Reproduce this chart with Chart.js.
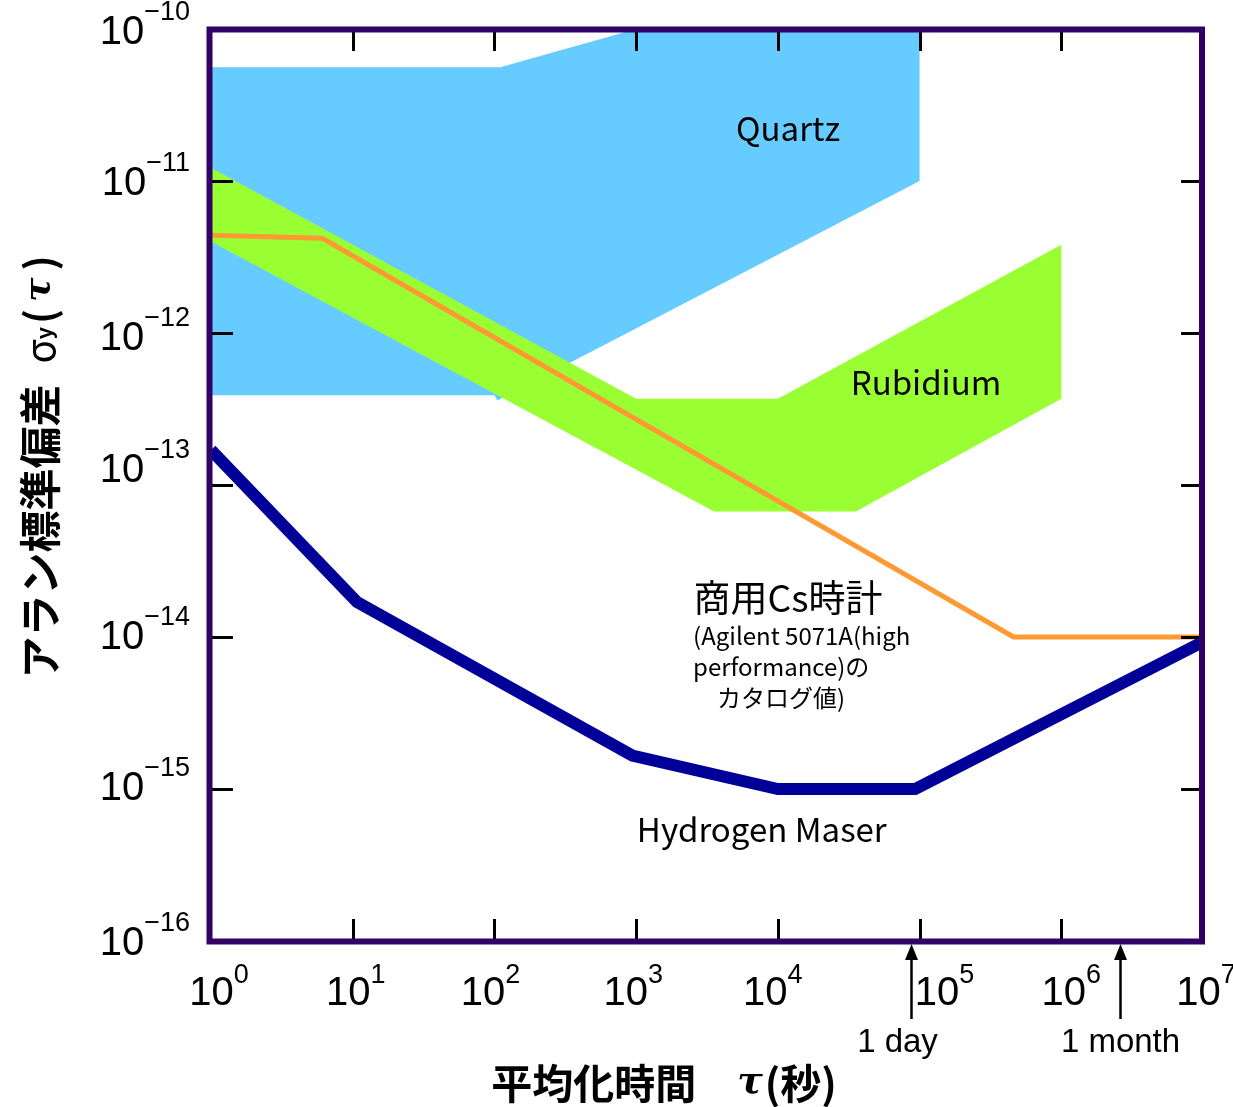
<!DOCTYPE html>
<html>
<head>
<meta charset="utf-8">
<script src="https://cdn.jsdelivr.net/npm/chart.js@4.4.1/dist/chart.umd.min.js"></script>
<style>
  html, body { margin: 0; padding: 0; background: #ffffff; }
  canvas { display: block; }
</style>
</head>
<body>
<canvas id="chart" width="1233" height="1107"></canvas>
<script>
// Averaging time τ [s] and Allan deviation σy(τ) for each clock type.
// Quartz and rubidium are stability regions (closed outlines), the others are curves.
const quartzTau     = [1, 110, 1000, 1e5, 1e5, 105, 100, 1];
const quartzSigma   = [5.6e-11, 5.6e-11, 1.0e-10, 1.0e-10, 1.0e-11, 3.6e-13, 3.9e-13, 3.9e-13];

const rubidiumTau   = [1, 1000, 1e4, 1e6, 1e6, 3.55e4, 3.55e3, 1];
const rubidiumSigma = [1.22e-11, 3.7e-13, 3.7e-13, 3.8e-12, 3.7e-13, 6.7e-14, 6.7e-14, 4.0e-12];

const cesiumTau     = [1, 6.1, 4.6e5, 1e7];
const cesiumSigma   = [4.4e-12, 4.2e-12, 1.0e-14, 1.0e-14];

const maserTau      = [1, 10.7, 940, 1e4, 9.3e4, 1e7];
const maserSigma    = [1.7e-13, 1.7e-14, 1.66e-15, 1.0e-15, 1.0e-15, 9.3e-15];

// Axis decades and their exponent labels
const xTickValues    = [1, 1e1, 1e2, 1e3, 1e4, 1e5, 1e6, 1e7];
const xTickExponents = ['0', '1', '2', '3', '4', '5', '6', '7'];
const yTickValues    = [1e-10, 1e-11, 1e-12, 1e-13, 1e-14, 1e-15, 1e-16];
const yTickExponents = ['\u221210', '\u221211', '\u221212', '\u221213', '\u221214', '\u221215', '\u221216'];

// Reference durations marked under the time axis
const markerTau    = [86400, 2592000];
const markerLabels = ['1 day', '1 month'];

// Region / curve labels, anchored in data coordinates
const quartzLabel   = { text: 'Quartz', tau: 1.18e4, sigma: 2.23e-11 };
const rubidiumLabel = { text: 'Rubidium', tau: 1.11e5, sigma: 4.7e-13 };
const maserLabel    = { text: 'Hydrogen Maser', tau: 7.7e3, sigma: 5.4e-16 };
const cesiumLabel   = { text: '商用Cs時計', tau: 1.18e4, sigma: 1.81e-14 };
const cesiumNote    = ['(Agilent 5071A(high', 'performance)の', '\u3000カタログ値)'];

const COLORS = {
  quartz: '#66ccff',
  rubidium: '#99ff33',
  cesium: '#ff9933',
  maser: '#000099',
  frame: '#330066'
};

const toPoints = (xs, ys) => xs.map((x, i) => ({ x, y: ys[i] }));

const NUM_FONT = '"Liberation Sans Narrow", "Liberation Sans", Arial, sans-serif';
const LAT_FONT = '"Liberation Sans", Arial, sans-serif';
const JP_FONT  = '"Noto Sans CJK JP", "Noto Sans", sans-serif';

// hand-set label nudges (px) for the decade labels
const xLabelShift = [8, 3, -4, -3, -5, 25, 10, 3];
const yLabelShift = [1, 0, 3, -17, -2, -3, 0];

// Draws a sequence of text pieces (each with its own font / vertical shift) as one run
function drawRun(ctx, pieces, x, y, align) {
  let total = 0;
  const widths = pieces.map(p => { ctx.font = p.font; const w = ctx.measureText(p.t).width + (p.gap || 0); total += w; return w; });
  let cx = align === 'right' ? x - total : align === 'center' ? x - total / 2 : x;
  pieces.forEach((p, i) => {
    ctx.font = p.font;
    ctx.fillText(p.t, cx, y + (p.dy || 0));
    cx += widths[i];
  });
}

const decorations = {
  id: 'decorations',
  afterDatasetsDraw(chart) {
    const { ctx, chartArea: a, scales: { x, y } } = chart;
    ctx.save();
    ctx.fillStyle = '#000';
    ctx.textAlign = 'left';
    ctx.textBaseline = 'alphabetic';

    // inward tick marks on all four sides
    ctx.strokeStyle = '#000';
    ctx.lineWidth = 3;
    ctx.beginPath();
    xTickValues.slice(1, -1).forEach(v => {
      const px = Math.round(x.getPixelForValue(v)) + 0.5;
      ctx.moveTo(px, a.top); ctx.lineTo(px, a.top + 22);
      ctx.moveTo(px, a.bottom); ctx.lineTo(px, a.bottom - 22);
    });
    yTickValues.slice(1, -1).forEach(v => {
      const py = Math.round(y.getPixelForValue(v)) + 0.5;
      ctx.moveTo(a.left, py); ctx.lineTo(a.left + 22, py);
      ctx.moveTo(a.right, py); ctx.lineTo(a.right - 22, py);
    });
    ctx.stroke();

    // plot frame
    ctx.strokeStyle = COLORS.frame;
    ctx.lineWidth = 6;
    ctx.strokeRect(a.left - 1.5, a.top + 0.5, a.right - a.left + 0.5, a.bottom - a.top);

    // x tick labels 10^n
    xTickValues.forEach((v, i) => {
      const px = x.getPixelForValue(v);
      drawRun(ctx, [
        { t: '10', font: `40px ${NUM_FONT}` },
        { t: xTickExponents[i], font: `27px ${NUM_FONT}`, dy: -22 }
      ], px + xLabelShift[i], a.bottom + 64, 'center');
    });

    // y tick labels 10^-n
    yTickValues.forEach((v, i) => {
      const py = y.getPixelForValue(v);
      drawRun(ctx, [
        { t: '10', font: `40px ${NUM_FONT}` },
        { t: yTickExponents[i], font: `27px ${NUM_FONT}`, dy: -24 }
      ], 190, py + 14 + yLabelShift[i], 'right');
    });

    // duration markers: upward arrows with labels
    ctx.strokeStyle = '#000';
    ctx.lineWidth = 2.5;
    markerTau.forEach((t, i) => {
      const px = Math.round(x.getPixelForValue(t)) + 0.5;
      const tip = a.bottom + 3;
      ctx.beginPath();
      ctx.moveTo(px, tip + 12); ctx.lineTo(px, a.bottom + 78);
      ctx.stroke();
      ctx.beginPath();
      ctx.moveTo(px, tip); ctx.lineTo(px - 6.5, tip + 16); ctx.lineTo(px + 6.5, tip + 16);
      ctx.closePath(); ctx.fill();
      ctx.font = `33px ${LAT_FONT}`;
      ctx.textAlign = 'center';
      ctx.fillText(markerLabels[i], px - (i === 0 ? 14 : 0), a.bottom + 111);
      ctx.textAlign = 'left';
    });

    // region / curve labels
    ctx.textAlign = 'center';
    ctx.textBaseline = 'middle';
    ctx.font = `33px ${JP_FONT}`;
    [quartzLabel, rubidiumLabel, maserLabel].forEach(l => {
      ctx.fillText(l.text, x.getPixelForValue(l.tau), y.getPixelForValue(l.sigma));
    });
    ctx.font = `37px ${JP_FONT}`;
    const cx = x.getPixelForValue(cesiumLabel.tau), cy = y.getPixelForValue(cesiumLabel.sigma);
    ctx.fillText(cesiumLabel.text, cx, cy);
    ctx.textAlign = 'left';
    ctx.font = `24px ${JP_FONT}`;
    cesiumNote.forEach((line, i) => ctx.fillText(line, cx - 95, cy + 38 + i * 31));

    // axis titles
    ctx.textAlign = 'left';
    ctx.textBaseline = 'middle';
    drawRun(ctx, [
      { t: '平均化時間\u3000', font: `bold 41px ${JP_FONT}` },
      { t: 'τ', font: `italic bold 38px "DejaVu Serif", serif`, gap: 2 },
      { t: '(秒)', font: `bold 41px ${JP_FONT}` }
    ], 664, 1083, 'center');

    ctx.translate(40, 467);
    ctx.rotate(-Math.PI / 2);
    drawRun(ctx, [
      { t: 'アラン標準偏差\u2002', font: `bold 42px ${JP_FONT}` },
      { t: 'σ', font: `40px ${JP_FONT}` },
      { t: 'y', font: `bold 22px ${LAT_FONT}`, dy: 6, gap: 3 },
      { t: '(', font: `bold 40px ${JP_FONT}`, gap: 7 },
      { t: 'τ', font: `italic bold 36px "DejaVu Serif", serif`, gap: 7 },
      { t: ')', font: `bold 40px ${JP_FONT}` }
    ], 0, 0, 'center');
    ctx.restore();
  }
};

const area = (label, xs, ys, color, order) => ({
  label, data: toPoints(xs, ys), showLine: true, fill: 'shape',
  backgroundColor: color, borderColor: color, borderWidth: 0,
  pointRadius: 0, tension: 0, order
});
const curve = (label, xs, ys, color, width, order) => ({
  label, data: toPoints(xs, ys), showLine: true, fill: false,
  borderColor: color, borderWidth: width, borderJoinStyle: 'miter',
  pointRadius: 0, tension: 0, order
});

new Chart(document.getElementById('chart'), {
  type: 'scatter',
  data: {
    datasets: [
      curve('Hydrogen Maser', maserTau, maserSigma, COLORS.maser, 12, 0),
      curve('商用Cs時計', cesiumTau, cesiumSigma, COLORS.cesium, 5, 1),
      area('Rubidium', rubidiumTau, rubidiumSigma, COLORS.rubidium, 2),
      area('Quartz', quartzTau, quartzSigma, COLORS.quartz, 3)
    ]
  },
  options: {
    responsive: false,
    devicePixelRatio: 1,
    animation: false,
    layout: { padding: { left: 211, right: 30, top: 29, bottom: 166 } },
    plugins: { legend: { display: false }, tooltip: { enabled: false } },
    scales: {
      x: { type: 'logarithmic', min: 1, max: 1e7, display: false },
      y: { type: 'logarithmic', min: 1e-16, max: 1e-10, display: false }
    }
  },
  plugins: [decorations]
});
</script>
</body>
</html>
